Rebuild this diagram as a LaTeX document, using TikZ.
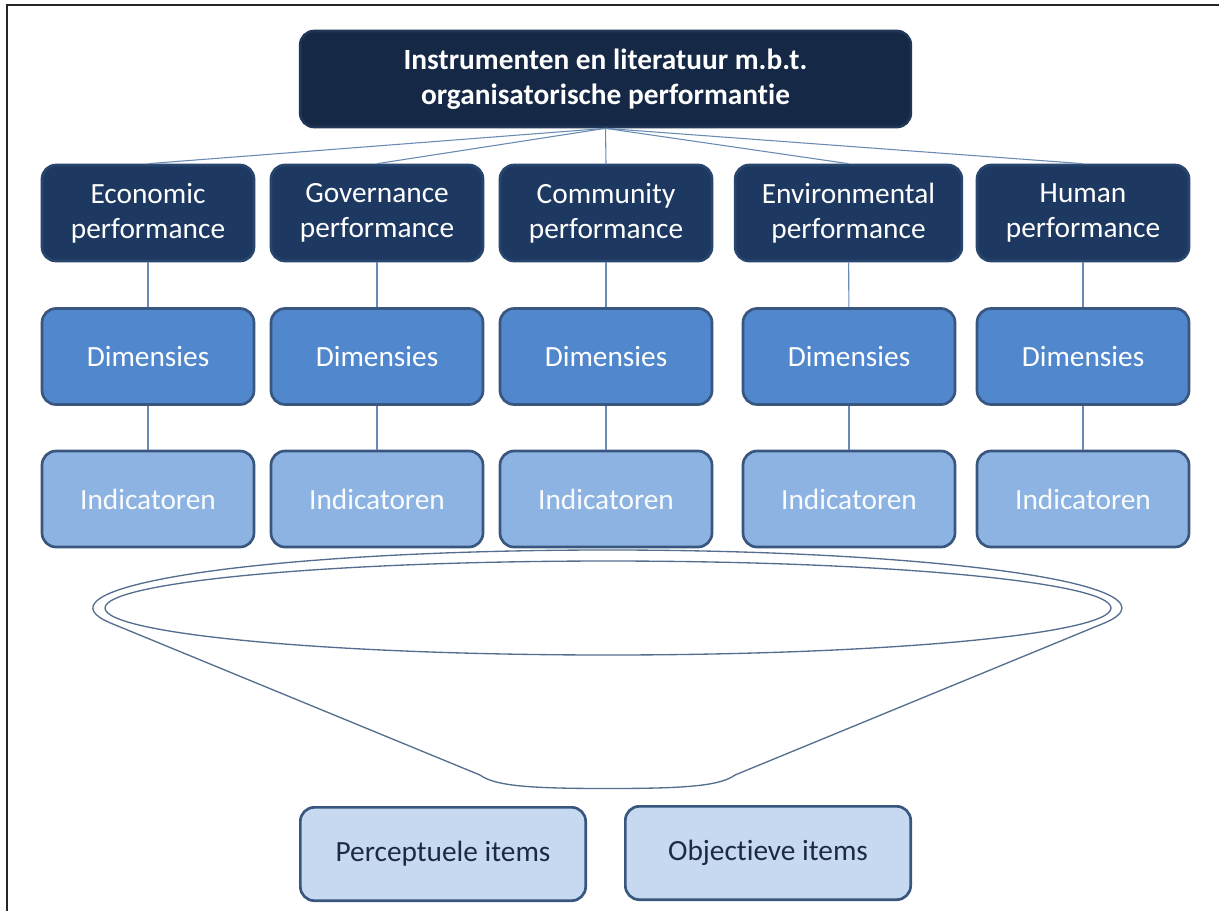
\documentclass[tikz,border=0pt]{standalone}
\usepackage{fontspec}
\setmainfont{Carlito}[Ligatures={NoCommon}]
\usepackage{tikz}

\definecolor{navydark}{RGB}{21,40,70}
\definecolor{navy}{RGB}{30,57,97}
\definecolor{dimblue}{RGB}{80,135,205}
\definecolor{indblue}{RGB}{141,179,226}
\definecolor{itemblue}{RGB}{198,217,240}
\definecolor{edgeblue}{RGB}{56,86,126}
\definecolor{connblue}{RGB}{105,138,178}
\definecolor{itemtext}{RGB}{30,42,66}

\tikzset{
  box/.style={rounded corners=10.5pt, line width=2pt, draw=edgeblue, inner sep=0pt, align=center,
    minimum width=159pt, minimum height=72pt, font=\fontsize{22}{26}\selectfont},
  lvltop/.style={box, fill=navydark, draw=navydark!70!edgeblue, text=white, minimum width=458pt, font=\fontsize{22}{26}\selectfont\bfseries},
  lvlone/.style={box, fill=navy, draw=navy!60!edgeblue, text=white},
  dimbox/.style={box, fill=dimblue, text=white},
  indbox/.style={box, fill=indblue, text=white!95!indblue},
  itembox/.style={box, fill=itemblue, text=itemtext, minimum width=214pt, minimum height=70pt},
  conn/.style={draw=connblue, line width=0.8pt},
  funnel/.style={draw=connblue!80!black, line width=1pt}
}

\begin{document}
\begin{tikzpicture}[x=0.75pt,y=0.75pt,yscale=-1]
\useasboundingbox (0,0) rectangle (1219,911);

%Frame
\draw [line width=1.5pt, black!85]  (7,911) -- (7,5) -- (1219,5) ;

%Rounded Rect: top
\node [lvltop] (top) at (605.5,79) {Instrumenten en literatuur m.b.t.\\organisatorische performantie};

%Rounded Rect: performance
\node [lvlone] (econ) at (148,213) {Economic\\performance};
\node [lvlone] (gov) at (377,213) {Governance\\performance};
\node [lvlone] (comm) at (606,213) {Community\\performance};
\node [lvlone, minimum width=170pt] (env) at (848.5,213) {Environmental\\performance};
\node [lvlone] (hum) at (1083,213) {Human\\performance};

%Rounded Rect: dimensies
\node [dimbox] (econdim) at (148,356.5) {Dimensies};
\node [dimbox] (govdim) at (377,356.5) {Dimensies};
\node [dimbox] (commdim) at (606,356.5) {Dimensies};
\node [dimbox] (envdim) at (849,356.5) {Dimensies};
\node [dimbox] (humdim) at (1083,356.5) {Dimensies};

%Rounded Rect: indicatoren
\node [indbox] (econind) at (148,499) {Indicatoren};
\node [indbox] (govind) at (377,499) {Indicatoren};
\node [indbox] (commind) at (606,499) {Indicatoren};
\node [indbox] (envind) at (849,499) {Indicatoren};
\node [indbox] (humind) at (1083,499) {Indicatoren};

%Straight Lines
\draw [conn] (top.south) -- (econ.north) ;
\draw [conn] (top.south) -- (gov.north) ;
\draw [conn] (top.south) -- (comm.north) ;
\draw [conn] (top.south) -- (env.north) ;
\draw [conn] (top.south) -- (hum.north) ;

\draw [conn] (econ) -- (econdim) ;
\draw [conn] (gov) -- (govdim) ;
\draw [conn] (comm) -- (commdim) ;
\draw [conn] (env) -- (envdim) ;
\draw [conn] (hum) -- (humdim) ;

\draw [conn] (econdim) -- (econind) ;
\draw [conn] (govdim) -- (govind) ;
\draw [conn] (commdim) -- (commind) ;
\draw [conn] (envdim) -- (envind) ;
\draw [conn] (humdim) -- (humind) ;

%Shape: Funnel
\draw [funnel] (110.5,623) arc [start angle=165, end angle=375, x radius=514.5, y radius=58] -- (735,775) .. controls (720,786) and (685,788.5) .. (607.5,788.5) .. controls (530,788.5) and (495,786) .. (480,775) -- cycle ;
\draw [funnel] (608,608) ellipse [x radius=503, y radius=47] ;

%Rounded Rect: items
\node [itembox] (perc) at (443,854) {Perceptuele items};
\node [itembox] (obj) at (768,853) {Objectieve items};

\end{tikzpicture}
\end{document}
